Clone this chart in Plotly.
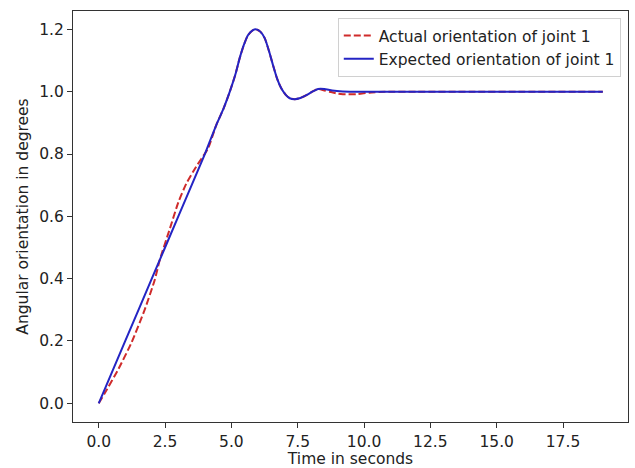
import plotly.graph_objects as go

# Expected orientation of joint 1 (blue, solid)
expected_t = [0, 1, 2, 3, 4, 4.43, 4.7, 4.94, 5.15, 5.31, 5.47, 5.63, 5.8, 5.94, 6.1,
              6.26, 6.42, 6.57, 6.72, 6.88, 7.05, 7.2, 7.39, 7.6, 7.83, 8.05, 8.27,
              8.5, 8.8, 9.2, 10, 12, 14, 16, 18, 19]
expected_y = [0, 0.2, 0.4, 0.6, 0.8, 0.893, 0.945, 1.0, 1.055, 1.107, 1.15, 1.182, 1.197,
              1.2, 1.192, 1.171, 1.13, 1.085, 1.043, 1.011, 0.99, 0.979, 0.976, 0.98,
              0.989, 1.0, 1.009, 1.009, 1.004, 1.001, 1.0, 1.0, 1.0, 1.0, 1.0, 1.0]

# Actual orientation of joint 1 (red, dashed)
actual_t = [0, 0.23, 0.73, 1.23, 1.73, 2.11, 2.3, 2.68, 3.0, 3.3, 3.62, 3.87, 4.12, 4.43,
            4.7, 4.94, 5.15, 5.31, 5.47, 5.63, 5.8, 5.94, 6.1, 6.26, 6.42, 6.57, 6.72,
            6.88, 7.05, 7.2, 7.39, 7.6, 7.83, 8.05, 8.27, 8.5, 8.7, 9.0, 9.2, 9.71,
            10.2, 10.8, 12, 14, 16, 18, 19]
actual_y = [0, 0.033, 0.108, 0.194, 0.3, 0.396, 0.46, 0.56, 0.645, 0.705, 0.752, 0.785,
            0.818, 0.893, 0.945, 1.0, 1.055, 1.107, 1.15, 1.182, 1.197, 1.2, 1.192, 1.171,
            1.13, 1.085, 1.043, 1.011, 0.99, 0.979, 0.976, 0.98, 0.989, 1.0, 1.009, 1.004,
            1.0, 0.994, 0.992, 0.992, 0.997, 1.0, 1.0, 1.0, 1.0, 1.0, 1.0]

x_ticks = [0, 2.5, 5, 7.5, 10, 12.5, 15, 17.5]
y_ticks = [0, 0.2, 0.4, 0.6, 0.8, 1.0, 1.2]

FONT = "DejaVu Sans"
FS = 15.5
TXT = "#222222"

fig = go.Figure()
fig.add_trace(go.Scatter(
    x=actual_t, y=actual_y, mode="lines", name="Actual orientation of joint 1",
    line=dict(color="#cf2b2b", width=2, dash="7px,3px", shape="spline", smoothing=0.6),
))
fig.add_trace(go.Scatter(
    x=expected_t, y=expected_y, mode="lines", name="Expected orientation of joint 1",
    line=dict(color="#2424c4", width=2, shape="spline", smoothing=0.5),
))

axis_common = dict(
    showline=True, linecolor="#333333", linewidth=1, mirror=True,
    ticks="outside", ticklen=5, tickwidth=1, tickcolor="#333333",
    showgrid=False, zeroline=False, automargin=False,
    tickfont=dict(family=FONT, size=FS, color=TXT),
    tickformat=".1f",
)

fig.update_xaxes(
    range=[-0.97, 19.95], tickvals=x_ticks,
    title=dict(text="Time in seconds", font=dict(family=FONT, size=FS, color=TXT), standoff=6),
    **axis_common,
)
fig.update_yaxes(
    range=[-0.06, 1.259], tickvals=y_ticks,
    title=dict(text="Angular orientation in degrees", font=dict(family=FONT, size=FS, color=TXT), standoff=6),
    **axis_common,
)

fig.update_layout(
    width=635, height=468,
    margin=dict(l=73, r=7, t=11, b=46),
    paper_bgcolor="white", plot_bgcolor="white",
    font=dict(family=FONT, size=FS, color=TXT),
    showlegend=True,
    legend=dict(
        x=0.987, y=0.983, xanchor="right", yanchor="top",
        bgcolor="rgba(255,255,255,0.8)", bordercolor="#d0d0d0", borderwidth=1,
        font=dict(family=FONT, size=FS, color=TXT),
        itemwidth=30, tracegroupgap=2,
    ),
)

fig.write_html("out.html")
